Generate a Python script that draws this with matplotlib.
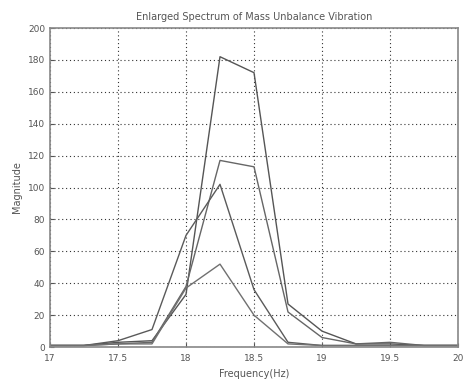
import matplotlib
matplotlib.use("Agg")
import matplotlib.pyplot as plt

freq = [17.0, 17.25, 17.5, 17.75, 18.0, 18.25, 18.5, 18.75, 19.0, 19.25, 19.5, 19.75, 20.0]
s1 = [1, 1, 3, 4, 33, 182, 172, 27, 10, 2, 2, 1, 1]
s2 = [1, 1, 2, 3, 38, 117, 113, 22, 6, 2, 3, 1, 1]
s3 = [1, 1, 4, 11, 70, 102, 36, 3, 1, 1, 1, 1, 1]
s4 = [1, 1, 2, 2, 37, 52, 20, 2, 1, 1, 1, 1, 1]
xticks = [17, 17.5, 18, 18.5, 19, 19.5, 20]
xticklabels = ["17", "17.5", "18", "18.5", "19", "19.5", "20"]
yticks = list(range(0, 201, 20))

fig = plt.figure(figsize=(4.65, 3.81), dpi=100)
ax = fig.add_axes([0.1075, 0.089, 0.8775, 0.8375])
for s, c in zip([s1, s2, s3, s4], ["#555555", "#666666", "#5a5a5a", "#707070"]):
    ax.plot(freq, s, color=c, lw=1.0)

ax.set_xlim(17, 20)
ax.set_ylim(0, 200)
ax.set_xticks(xticks)
ax.set_xticklabels(xticklabels)
ax.set_yticks(yticks)
ax.grid(True, linestyle=(0, (1, 2.5)), color="#333333", lw=0.8)
ax.tick_params(direction="in", labelsize=6.5, colors="#555555", length=3)
ax.tick_params(axis="x", pad=5)
for sp in ax.spines.values():
    sp.set_color("#888888")
    sp.set_linewidth(1.2)
ax.set_title("Enlarged Spectrum of Mass Unbalance Vibration", fontsize=7, color="#555555", pad=6)
ax.set_xlabel("Frequency(Hz)", fontsize=7, color="#555555", labelpad=4)
ax.set_ylabel("Magnitude", fontsize=7, color="#555555", labelpad=4)
fig.savefig("out.png", dpi=100)
